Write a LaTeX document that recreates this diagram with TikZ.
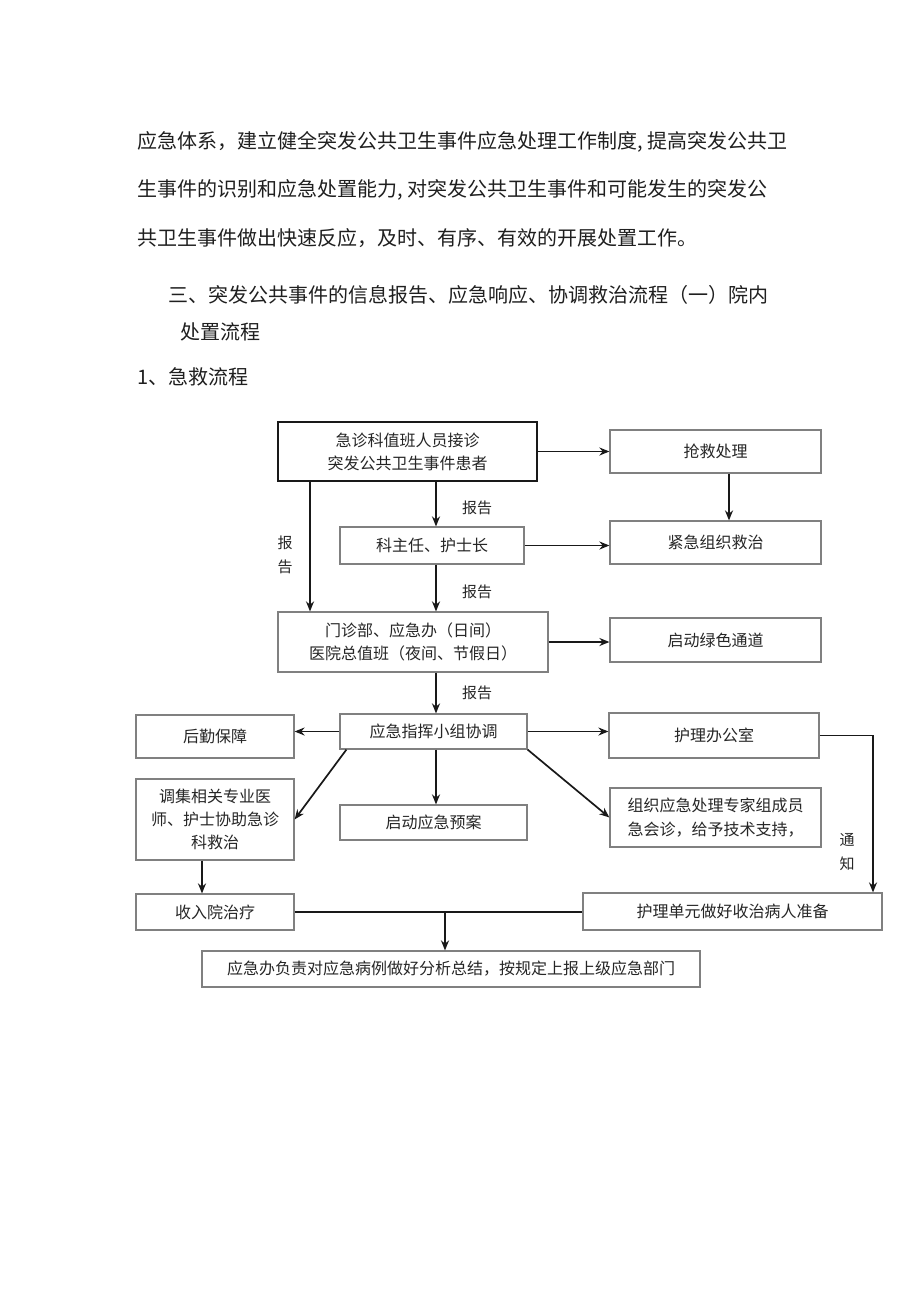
\documentclass[tikz,border=0pt]{standalone}
\usepackage{fontspec}
\setmainfont{Noto Sans CJK SC}
\usetikzlibrary{arrows.meta}
\begin{document}
\begin{tikzpicture}[x=1pt,y=-1pt,
  body/.style={anchor=west, inner sep=0pt, text=black!88, font=\fontsize{20}{24}\selectfont},
  box/.style={draw=black!50, line width=1.2pt, inner sep=0pt, align=center, text=black!85, font=\fontsize{16}{23}\selectfont},
  mainbox/.style={box, draw=black!90, line width=1.8pt},
  lbl/.style={inner sep=0pt, align=center, text=black!85, font=\fontsize{15}{24}\selectfont},
  arr/.style={-{Stealth[length=10pt,width=8pt]}, line width=1.7pt, draw=black!90},
  ln/.style={line width=1.7pt, draw=black!90}]
\fill[white] (0,0) rectangle (920,1301);
\useasboundingbox (0,0) rectangle (920,1301);

% body text
\node[body] (t1) at (137,142) {应急体系，建立健全突发公共卫生事件应急处理工作制度, 提高突发公共卫};
\node[body] (t2) at (137,190) {生事件的识别和应急处置能力, 对突发公共卫生事件和可能发生的突发公};
\node[body] (t3) at (137,238) {共卫生事件做出快速反应，及时、有序、有效的开展处置工作。};
\node[body] (t4) at (168,295) {三、突发公共事件的信息报告、应急响应、协调救治流程（一）院内};
\node[body] (t5) at (180,332) {处置流程};
\node[body] (t6) at (137,377) {1、急救流程};

% boxes
\node[mainbox, minimum width=259pt, minimum height=59pt] (b1) at (407.5,451.5) {急诊科值班人员接诊\\突发公共卫生事件患者};
\node[box, minimum width=211pt, minimum height=43pt] (qj) at (715.5,451.5) {抢救处理};
\node[box, minimum width=184pt, minimum height=37pt] (kzr) at (432,545.5) {科主任、护士长};
\node[box, minimum width=211pt, minimum height=43pt] (jj) at (715.5,542.5) {紧急组织救治};
\node[box, minimum width=270pt, minimum height=60pt] (mz) at (413,642) {门诊部、应急办（日间）\\医院总值班（夜间、节假日）};
\node[box, minimum width=211pt, minimum height=44pt] (ld) at (715.5,640) {启动绿色通道};
\node[box, minimum width=158pt, minimum height=43pt] (hq) at (215,736.5) {后勤保障};
\node[box, minimum width=187pt, minimum height=35pt] (yj) at (433.5,731.5) {应急指挥小组协调};
\node[box, minimum width=210pt, minimum height=45pt] (hl) at (714,735.5) {护理办公室};
\node[box, minimum width=158pt, minimum height=81pt] (dj) at (215,819.5) {调集相关专业医\\师、护士协助急诊\\科救治};
\node[box, minimum width=187pt, minimum height=35pt] (qd) at (433.5,822.5) {启动应急预案};
\node[box, minimum width=211pt, minimum height=59pt, font=\fontsize{16}{24}\selectfont] (zz) at (715.5,817.5) {组织应急处理专家组成员\\急会诊，给予技术支持，};
\node[box, minimum width=158pt, minimum height=36pt] (sr) at (215,912) {收入院治疗};
\node[box, minimum width=299pt, minimum height=37pt] (hd) at (732.5,911.5) {护理单元做好收治病人准备};
\node[box, minimum width=498pt, minimum height=36pt] (zj) at (451,969) {应急办负责对应急病例做好分析总结，按规定上报上级应急部门};

% helper x positions
\coordinate (sx) at (436,0);
\coordinate (lx) at (310,0);
\coordinate (nx) at (873,0);
\coordinate (jx) at (445,0);
\coordinate (qx) at (729,0);
\coordinate (dx) at (202,0);

% labels
\node[lbl] (l1) at (477,508) {报告};
\node[lbl] (l2) at (477,592) {报告};
\node[lbl] (l3) at (477,693) {报告};
\node[lbl] (l4) at (285,555) {报\\告};
\node[lbl] (l5) at (847,852) {通\\知};

% connectors
\draw[arr] (b1.east) -- (b1.east -| qj.west);
\draw[arr] (qj.south -| qx) -- (jj.north -| qx);
\draw[arr] (b1.south -| sx) -- (kzr.north -| sx);
\draw[arr] (b1.south -| lx) -- (mz.north -| lx);
\draw[arr] (kzr.east) -- (kzr.east -| jj.west);
\draw[arr] (kzr.south -| sx) -- (mz.north -| sx);
\draw[arr] (mz.east) -- (mz.east -| ld.west);
\draw[arr] (mz.south -| sx) -- (yj.north -| sx);
\draw[arr] (yj.west) -- (yj.west -| hq.east);
\draw[arr] (yj.east) -- (yj.east -| hl.west);
\draw[arr] (yj.south -| sx) -- (qd.north -| sx);
\draw[arr] ([xshift=7pt]yj.south west) -- (dj.east);
\draw[arr] (yj.south east) -- (zz.west);
\draw[arr] (hl.east) -| (hd.north -| nx);
\draw[arr] (dj.south -| dx) -- (sr.north -| dx);
\draw[ln] (sr.east) -- (sr.east -| hd.west);
\draw[arr] (sr.east -| jx) -- (zj.north -| jx);
\end{tikzpicture}
\end{document}
